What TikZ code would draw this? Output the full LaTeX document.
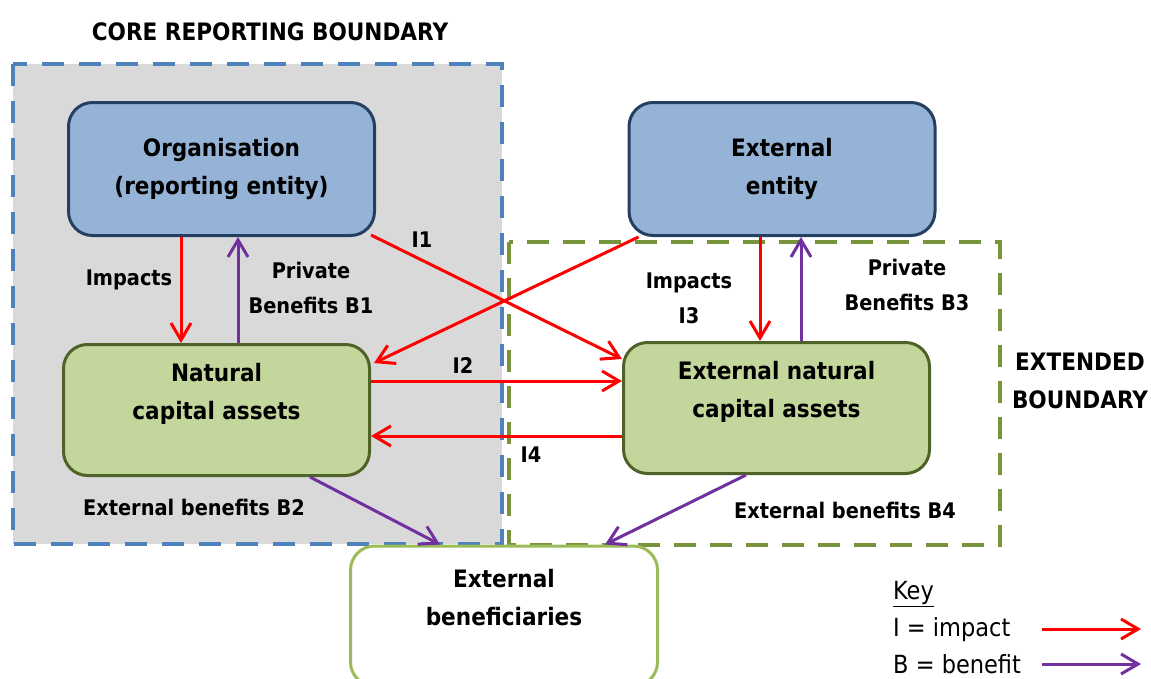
\documentclass[tikz,border=0pt]{standalone}
\usepackage{fontspec}
\setmainfont{DejaVu Sans Condensed}
\usetikzlibrary{arrows.meta}

\definecolor{coregray}{HTML}{D9D9D9}
\definecolor{coreblue}{HTML}{4F81BD}
\definecolor{extgreen}{HTML}{77933C}
\definecolor{entityfill}{HTML}{95B3D7}
\definecolor{entityline}{HTML}{243F60}
\definecolor{assetfill}{HTML}{C3D69B}
\definecolor{assetline}{HTML}{4F6228}
\definecolor{benefline}{HTML}{9BBB59}
\definecolor{impactred}{HTML}{FF0000}
\definecolor{benefitpurple}{HTML}{7030A0}

\begin{document}
\begin{tikzpicture}[x=1pt, y=-1pt,
    every node/.style={font=\fontsize{21.5}{35}\selectfont\bfseries, align=center, inner sep=0pt},
    boxtext/.style={font=\fontsize{24}{38}\selectfont\bfseries},
    entitybox/.style={draw=entityline, fill=entityfill, line width=3pt, rounded corners=24pt, minimum width=306pt, minimum height=133pt},
    assetbox/.style={draw=assetline, fill=assetfill, line width=3pt, rounded corners=24pt, minimum width=306pt, minimum height=131pt},
    benefbox/.style={draw=benefline, fill=white, line width=3pt, rounded corners=24pt, minimum width=307pt, minimum height=140pt},
    impact/.style={draw=impactred, line width=3pt, -{Straight Barb[length=17pt, width=20pt]}},
    benefit/.style={impact, draw=benefitpurple},
    keytext/.style={font=\fontsize{25}{34}\selectfont, anchor=west}]
    \useasboundingbox (0,0) rectangle (1151,678);
    \clip (0,0) rectangle (1151,678);

    % Boundaries
    \filldraw[fill=coregray, draw=coreblue, line width=4pt, dash pattern=on 22pt off 15pt] (13,64) rectangle (502,544);
    \draw[extgreen, line width=4pt, dash pattern=on 22pt off 14pt] (509,242) rectangle (1000,545);
    \node[boxtext] (core-title) at (270,32) {CORE REPORTING BOUNDARY};
    \node[boxtext] (ext-title) at (1080,381) {EXTENDED\\BOUNDARY};

    % Entities
    \node[entitybox, boxtext] (org) at (221.5,169) {Organisation\\(reporting entity)};
    \node[entitybox, boxtext] (ext) at (782,169) {External\\entity};

    % Natural capital
    \node[assetbox] (nat) at (216.5,410) {};
    \node[boxtext] (nat-text) at ([yshift=16pt]nat.center) {Natural\\capital assets};
    \node[assetbox] (extnat) at (776.5,408) {};
    \node[boxtext] (extnat-text) at ([yshift=16pt]extnat.center) {External natural\\capital assets};

    % Beneficiaries
    \node[benefbox] (benef) at (504,616) {};
    \node[boxtext] (benef-text) at (504,598) {External\\beneficiaries};

    % Labels
    \node (lbl-impacts) at (129,280) {Impacts};
    \node (lbl-b1) at (311,288) {Private\\Benefits B1};
    \node (lbl-i1) at (422,240) {I1};
    \node (lbl-i2) at (463,366) {I2};
    \node (lbl-i4) at (531,455) {I4};
    \node (lbl-i3) at (689,298) {Impacts\\I3};
    \node (lbl-b3) at (907,285) {Private\\Benefits B3};
    \node (lbl-b2) at (194,507) {External benefits B2};
    \node (lbl-b4) at (845,510) {External benefits B4};

    % Arrows
    \draw[impact] ([xshift=-40.5pt]org.south) -- ([xshift=-35.5pt]nat.north);
    \draw[benefit] ([xshift=21.5pt]nat.north) -- ([xshift=16.5pt]org.south);
    \draw[impact] ([xshift=-5pt, yshift=2pt]org.south east) -- ([yshift=-18pt]extnat.north west);
    \draw[impact] ([xshift=11pt]ext.south west) -- ([xshift=3pt, yshift=-20pt]nat.north east);
    \draw[impact] ([yshift=29pt]nat.east) -- ([yshift=29pt]nat.east -| extnat.west);
    \draw[impact] ([yshift=-28pt]extnat.west) -- ([yshift=-28pt]extnat.west -| nat.east);
    \draw[impact] ([xshift=-22pt]ext.south) -- ([xshift=-22pt]ext.south |- extnat.north);
    \draw[benefit] ([xshift=19pt]ext.south |- extnat.north) -- ([xshift=19pt]ext.south);
    \draw[benefit] ([xshift=93.5pt]nat.south) -- ([xshift=-64pt]benef.north);
    \draw[benefit] ([xshift=-30.5pt]extnat.south) -- ([xshift=101pt]benef.north);

    % Key
    \node[keytext] (key-title) at (893,594) {\underline{Key}};
    \node[keytext] (key-impact) at (893,630) {I = impact};
    \node[keytext] (key-benefit) at (893,664) {B = benefit};
    \coordinate (key-i-start) at (1042,629);
    \coordinate (key-i-end) at (1141,629);
    \coordinate (key-b-start) at (1042,664);
    \coordinate (key-b-end) at (1141,664);
    \draw[impact] (key-i-start) -- (key-i-end);
    \draw[benefit] (key-b-start) -- (key-b-end);
\end{tikzpicture}
\end{document}
